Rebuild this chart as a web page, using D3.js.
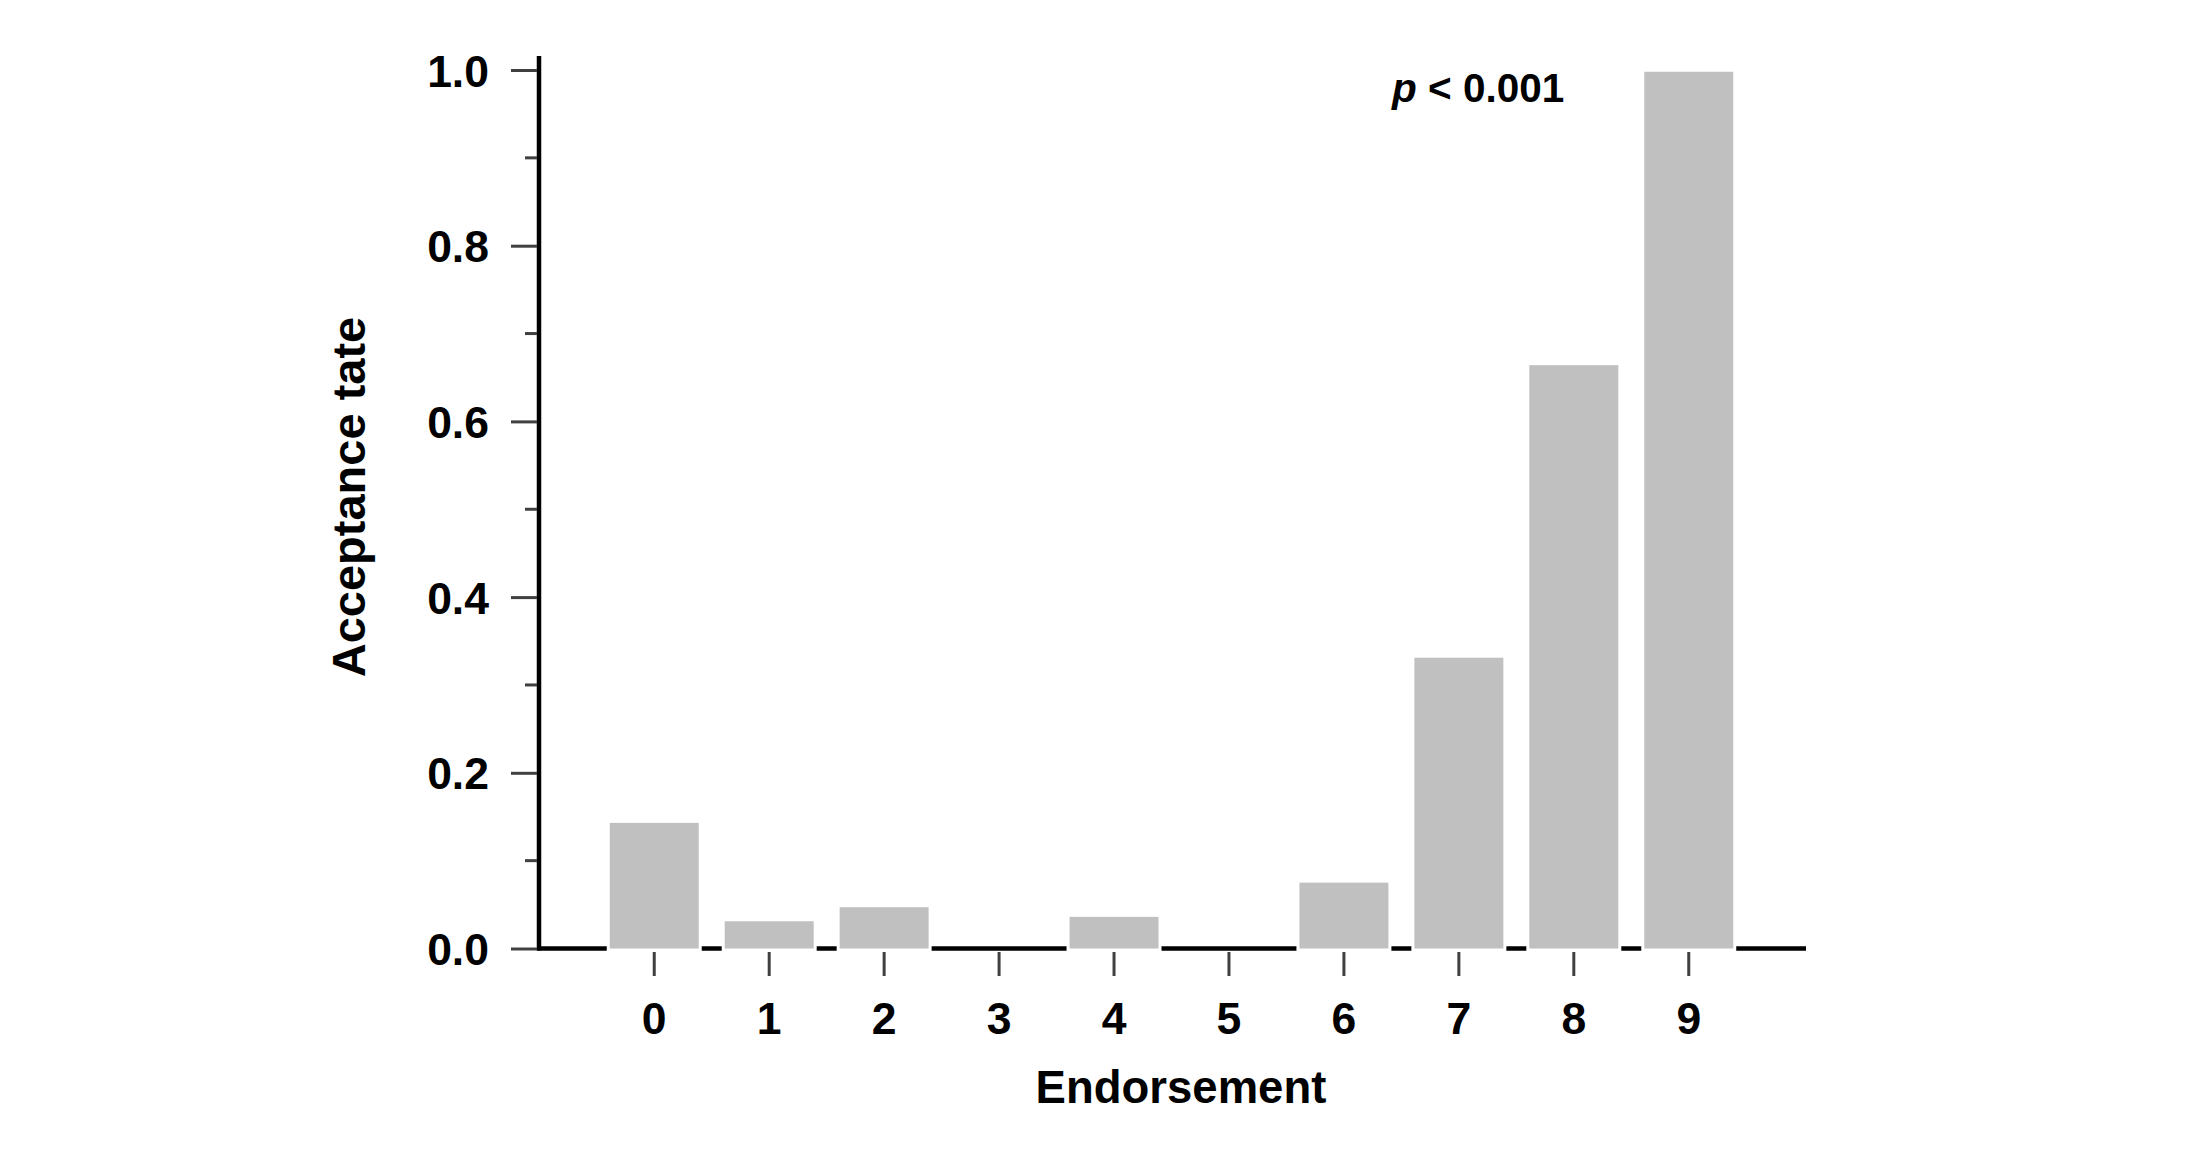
<!DOCTYPE html>
<html>
<head>
<meta charset="utf-8">
<script src="https://cdn.jsdelivr.net/npm/d3@7"></script>
<style>
  html, body { margin: 0; padding: 0; background: #fff; }
  svg { display: block; }
  text { font-family: Arial, "Liberation Sans", sans-serif; font-weight: bold; fill: #000; }
</style>
</head>
<body>
<svg id="chart" width="2195" height="1149"></svg>
<script>
// ---- data ----
const categories = ["0", "1", "2", "3", "4", "5", "6", "7", "8", "9"];
const acceptanceRate = [0.143, 0.031, 0.047, 0, 0.036, 0, 0.075, 0.331, 0.664, 0.998];
const yTickValues = [0, 0.2, 0.4, 0.6, 0.8, 1.0];
const yMinorTickValues = [0.1, 0.3, 0.5, 0.7, 0.9];
const xTitle = "Endorsement";
const yTitle = "Acceptance tate";

// ---- layout ----
const svg = d3.select("#chart");
const plotLeft = 537, plotRight = 1806, plotTop = 70, plotBottom = 948.5;

const x = d3.scaleBand().domain(categories).range([plotLeft, plotRight])
  .paddingInner(0.226).paddingOuter(0.633);
const y = d3.scaleLinear().domain([0, 1]).range([plotBottom, plotTop]);

// x axis line
svg.append("line")
  .attr("x1", plotLeft).attr("x2", plotRight)
  .attr("y1", y(0)).attr("y2", y(0))
  .attr("stroke", "#000").attr("stroke-width", 4.5);

// y axis line
svg.append("line")
  .attr("x1", plotLeft + 2).attr("x2", plotLeft + 2)
  .attr("y1", y(0) + 2).attr("y2", y(1) - 14)
  .attr("stroke", "#000").attr("stroke-width", 4.5);

// y ticks (major via d3 axis)
const yAxis = d3.axisLeft(y).tickValues(yTickValues).tickFormat(d3.format(".1f"))
  .tickSize(26).tickPadding(22);
const gy = svg.append("g").attr("transform", `translate(${plotLeft},0)`).call(yAxis);
gy.select(".domain").remove();
gy.selectAll(".tick line").attr("stroke", "#404040").attr("stroke-width", 3);
gy.selectAll(".tick text")
  .style("font-size", "44.5px").style("font-weight", "bold")
  .attr("fill", "#000").attr("dy", "0.36em");

// y minor ticks
svg.append("g").selectAll("line").data(yMinorTickValues).join("line")
  .attr("x1", plotLeft - 12).attr("x2", plotLeft)
  .attr("y1", d => y(d)).attr("y2", d => y(d))
  .attr("stroke", "#404040").attr("stroke-width", 3);

// x ticks
const xAxis = d3.axisBottom(x).tickSize(24).tickPadding(26);
const gx = svg.append("g").attr("transform", `translate(0,${y(0) + 3.5})`).call(xAxis);
gx.select(".domain").remove();
gx.selectAll(".tick line").attr("stroke", "#404040").attr("stroke-width", 3);
gx.selectAll(".tick text")
  .style("font-size", "44.5px").style("font-weight", "bold").attr("fill", "#000");

// bars with white halo
const data = categories.map((c, i) => ({ c, v: acceptanceRate[i] }));
const bars = svg.append("g");
bars.selectAll("rect.halo").data(data.filter(d => d.v > 0)).join("rect")
  .attr("class", "halo")
  .attr("x", d => x(d.c) - 3)
  .attr("width", x.bandwidth() + 6)
  .attr("y", d => y(d.v) - 3)
  .attr("height", d => y(0) - y(d.v) + 6)
  .attr("fill", "#fff");
bars.selectAll("rect.bar").data(data.filter(d => d.v > 0)).join("rect")
  .attr("class", "bar")
  .attr("x", d => x(d.c))
  .attr("width", x.bandwidth())
  .attr("y", d => y(d.v))
  .attr("height", d => y(0) - y(d.v))
  .attr("fill", "#c0c0c0");

// axis titles
svg.append("text")
  .attr("x", 1181).attr("y", 1103)
  .attr("text-anchor", "middle")
  .style("font-size", "45.5px")
  .text(xTitle);

svg.append("text")
  .attr("transform", "translate(365,497) rotate(-90)")
  .attr("text-anchor", "middle")
  .style("font-size", "47px")
  .text(yTitle);

// p-value annotation
const pt = svg.append("text")
  .attr("x", 1392).attr("y", 102)
  .style("font-size", "40.5px");
pt.append("tspan").style("font-style", "italic").text("p");
pt.append("tspan").text(" < 0.001");
</script>
</body>
</html>
